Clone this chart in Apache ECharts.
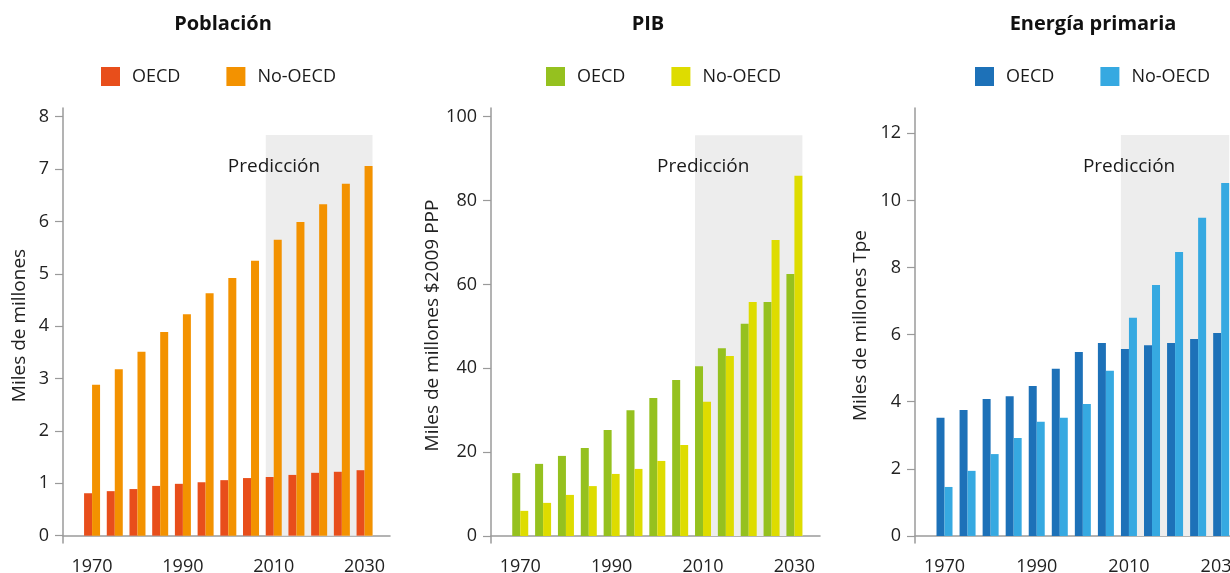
<!DOCTYPE html>
<html>
<head>
<meta charset="utf-8">
<script src="https://cdn.jsdelivr.net/npm/echarts@6/dist/echarts.min.js"></script>
<style>
html,body{margin:0;padding:0;background:#fff;}
#chart{width:1230px;height:573px;}
</style>
</head>
<body>
<div id="chart"></div>
<script>
// ---- data ----
const years = [1970,1975,1980,1985,1990,1995,2000,2005,2010,2015,2020,2025,2030];
const xTicks = [1970,1990,2010,2030];

const popOECD   = [0.81,0.85,0.89,0.95,0.99,1.02,1.06,1.10,1.12,1.16,1.20,1.22,1.25];
const popNonOECD= [2.88,3.18,3.51,3.89,4.23,4.63,4.92,5.25,5.65,5.99,6.33,6.72,7.06];
const popTicks  = [0,1,2,3,4,5,6,7,8];

const gdpOECD   = [15.0,17.2,19.1,21.0,25.3,30.0,32.9,37.2,40.5,44.8,50.6,55.8,62.5];
const gdpNonOECD= [6.0,7.9,9.8,11.9,14.8,16.0,17.9,21.7,32.0,42.9,55.8,70.6,85.9];
const gdpTicks  = [0,20,40,60,80,100];

const enOECD    = [3.52,3.75,4.08,4.16,4.47,4.98,5.48,5.75,5.57,5.68,5.75,5.87,6.05];
const enNonOECD = [1.46,1.94,2.44,2.92,3.40,3.52,3.93,4.92,6.50,7.48,8.46,9.48,10.52];
const enTicks   = [0,2,4,6,8,10,12];

const titles = ['Población','PIB','Energía primaria'];
const yNames = ['Miles de millones','Miles de millones $2009 PPP','Miles de millones Tpe'];
const legendNames = ['OECD','No-OECD'];
const forecastLabel = 'Predicción';
const forecastStart = 2008.25, forecastEnd = 2031.75;

// ---- styling ----
const FONT = '"Open Sans", "Noto Sans", sans-serif';
const colors = [['#E84E1B','#F39200'],['#95C11F','#DEDC00'],['#1D71B8','#36A9E1']];
const panels = [
  {oecd: popOECD, non: popNonOECD, ticks: popTicks, ymin:-0.14, ymax:8.166, shadeTop:7.65,
   left:63, width:327, nameGap:34, titleX:223, legendLeft:101},
  {oecd: gdpOECD, non: gdpNonOECD, ticks: gdpTicks, ymin:-1.67, ymax:102.07, shadeTop:95.6,
   left:491, width:329, nameGap:48, titleX:648, legendLeft:546},
  {oecd: enOECD, non: enNonOECD, ticks: enTicks, ymin:-0.21, ymax:12.754, shadeTop:11.95,
   left:915, width:332, nameGap:45, titleX:1093, legendLeft:975}
];

const axisColor = '#9a9a9a';
const grid = [], xAxis = [], yAxis = [], series = [], legend = [], graphic = [];

panels.forEach((p, i) => {
  grid.push({left: p.left, width: p.width, top: 108, bottom: 30, outerBoundsMode: 'none', containLabel: false});
  xAxis.push({
    type: 'value', gridIndex: i, min: 1963.6, max: 2035.6,
    splitLine: {show: false},
    axisLine: {show: true, onZero: true, lineStyle: {color: axisColor, width: 1.5}},
    axisTick: {show: false},
    axisLabel: {customValues: xTicks, formatter: v => String(v), margin: 15,
      fontFamily: FONT, fontSize: 18, color: '#222'}
  });
  yAxis.push({
    type: 'value', gridIndex: i, min: p.ymin, max: p.ymax,
    name: yNames[i], nameLocation: 'middle', nameRotate: 90, nameGap: p.nameGap,
    nameTextStyle: {fontFamily: FONT, fontSize: 19, color: '#222'},
    splitLine: {show: false},
    axisLine: {show: true, lineStyle: {color: axisColor, width: 1.5}},
    axisTick: {show: true, length: 8, customValues: p.ticks, lineStyle: {color: axisColor, width: 1.2}},
    axisLabel: {customValues: p.ticks, margin: 14, fontFamily: FONT, fontSize: 18, color: '#222'}
  });
  const nm0 = 'p' + i + '|' + legendNames[0];
  const nm1 = 'p' + i + '|' + legendNames[1];
  series.push({
    type: 'line', xAxisIndex: i, yAxisIndex: i, data: [], z: 1, silent: true,
    markArea: {
      silent: true,
      itemStyle: {color: '#EDEDED'},
      label: {show: true, position: [-38, 22], fontFamily: FONT, fontSize: 19, color: '#1a1a1a'},
      data: [[{name: forecastLabel, xAxis: forecastStart, yAxis: p.shadeTop}, {xAxis: forecastEnd, yAxis: 0}]]
    }
  });
  series.push({
    name: nm0, type: 'bar', xAxisIndex: i, yAxisIndex: i, z: 2,
    barWidth: 8, barGap: '0%', itemStyle: {color: colors[i][0]},
    emphasis: {disabled: true},
    data: years.map((y, k) => [y, p.oecd[k]])
  });
  series.push({
    name: nm1, type: 'bar', xAxisIndex: i, yAxisIndex: i, z: 2,
    barWidth: 8, barGap: '0%', itemStyle: {color: colors[i][1]},
    emphasis: {disabled: true},
    data: years.map((y, k) => [y, p.non[k]])
  });
  legend.push({
    data: [nm0, nm1], left: p.legendLeft, top: 67, padding: 0,
    icon: 'rect', itemWidth: 19, itemHeight: 19, itemGap: 46,
    selectedMode: false,
    formatter: n => n.split('|')[1],
    textStyle: {fontFamily: FONT, fontSize: 18, color: '#1a1a1a', padding: [0,0,0,7]}
  });
  graphic.push({
    type: 'text', x: p.titleX, y: 24,
    style: {text: titles[i], x: 0, y: 0, textAlign: 'center', textVerticalAlign: 'middle',
      font: 'bold 20px ' + FONT, fill: '#111'}
  });
});

const chart = echarts.init(document.getElementById('chart'));
chart.setOption({
  animation: false,
  backgroundColor: '#fff',
  grid, xAxis, yAxis, series, legend, graphic
});
</script>
</body>
</html>
